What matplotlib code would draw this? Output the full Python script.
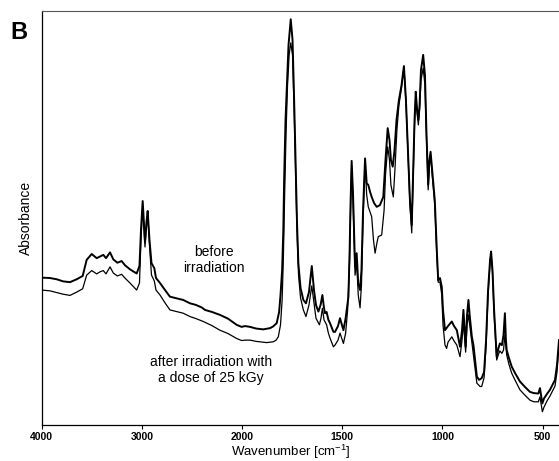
import numpy as np
import matplotlib
matplotlib.use("Agg")
import matplotlib.pyplot as plt

plt.rcParams['font.family'] = ['Liberation Sans', 'DejaVu Sans']

# FTIR spectra, wavenumber [cm-1] vs absorbance (arbitrary units)
wn_before = [4000, 3917, 3850, 3787, 3718, 3651, 3591, 3551, 3501, 3451, 3418, 3385, 3358, 3318,
             3285, 3245, 3202, 3169, 3119, 3052, 3024, 3009, 2992, 2979, 2969, 2954, 2942, 2924,
             2904, 2876, 2859, 2819, 2769, 2720, 2587, 2520, 2460, 2403, 2370, 2300, 2221, 2141,
             2054, 2004, 1985, 1960, 1930, 1894, 1860, 1845, 1827, 1815, 1808, 1800, 1794, 1790,
             1783, 1775, 1768, 1757, 1748, 1740, 1733, 1726, 1719, 1708, 1694, 1681, 1666, 1652,
             1641, 1631, 1619, 1608, 1599, 1591, 1586, 1578, 1569, 1561, 1544, 1536, 1521, 1511,
             1503, 1494, 1483, 1469, 1463, 1458, 1453, 1446, 1436, 1428, 1420, 1411, 1404, 1396,
             1386, 1378, 1370, 1361, 1353, 1341, 1328, 1312, 1295, 1284, 1273, 1264, 1257, 1248,
             1239, 1229, 1217, 1204, 1192, 1182, 1172, 1162, 1153, 1147, 1139, 1133, 1127, 1120,
             1114, 1107, 1096, 1087, 1080, 1071, 1065, 1059, 1051, 1038, 1028, 1021, 1012, 1003,
             997, 987, 972, 953, 942, 928, 912, 902, 895, 889, 884, 877, 870, 864, 853, 845, 828,
             817, 804, 792, 782, 772, 762, 757, 750, 742, 729, 720, 713, 703, 695, 688, 683, 679,
             668, 654, 638, 613, 588, 563, 543, 521, 513, 501, 493, 478, 463, 438, 428, 418]
abs_before = [0.356, 0.355, 0.352, 0.347, 0.345, 0.352, 0.360, 0.399, 0.413, 0.403, 0.407, 0.411,
              0.403, 0.417, 0.400, 0.392, 0.396, 0.386, 0.376, 0.366, 0.384, 0.471, 0.541, 0.483,
              0.442, 0.490, 0.517, 0.447, 0.391, 0.379, 0.355, 0.343, 0.326, 0.310, 0.302, 0.294,
              0.290, 0.284, 0.278, 0.273, 0.266, 0.257, 0.242, 0.237, 0.239, 0.237, 0.233, 0.231,
              0.234, 0.238, 0.246, 0.273, 0.314, 0.374, 0.471, 0.592, 0.737, 0.833, 0.918, 0.980,
              0.930, 0.785, 0.640, 0.495, 0.391, 0.331, 0.302, 0.294, 0.321, 0.384, 0.326, 0.290,
              0.274, 0.290, 0.314, 0.283, 0.270, 0.273, 0.254, 0.246, 0.225, 0.225, 0.239, 0.258,
              0.244, 0.229, 0.258, 0.310, 0.423, 0.543, 0.638, 0.556, 0.382, 0.415, 0.342, 0.326,
              0.374, 0.519, 0.644, 0.584, 0.580, 0.563, 0.551, 0.536, 0.527, 0.531, 0.551, 0.640,
              0.717, 0.688, 0.640, 0.624, 0.664, 0.737, 0.785, 0.821, 0.867, 0.785, 0.664, 0.543,
              0.483, 0.592, 0.737, 0.805, 0.766, 0.737, 0.771, 0.857, 0.894, 0.845, 0.713, 0.580,
              0.638, 0.660, 0.616, 0.543, 0.423, 0.350, 0.355, 0.333, 0.278, 0.229, 0.239, 0.250,
              0.239, 0.229, 0.189, 0.229, 0.278, 0.229, 0.189, 0.266, 0.302, 0.266, 0.213, 0.193,
              0.117, 0.109, 0.113, 0.128, 0.205, 0.326, 0.399, 0.419, 0.374, 0.278, 0.165, 0.186,
              0.197, 0.193, 0.217, 0.270, 0.205, 0.181, 0.162, 0.141, 0.126, 0.105, 0.092, 0.080,
              0.077, 0.076, 0.089, 0.052, 0.064, 0.075, 0.085, 0.109, 0.145, 0.205]

wn_after = [4000, 3917, 3850, 3787, 3718, 3651, 3591, 3551, 3501, 3451, 3418, 3385, 3358, 3318,
            3285, 3245, 3202, 3169, 3119, 3052, 3024, 3009, 2992, 2979, 2969, 2954, 2942, 2924,
            2904, 2876, 2859, 2819, 2769, 2720, 2587, 2520, 2460, 2387, 2300, 2221, 2141, 2054,
            2004, 1985, 1960, 1930, 1877, 1844, 1830, 1819, 1808, 1800, 1794, 1788, 1780, 1773,
            1765, 1757, 1748, 1740, 1733, 1726, 1718, 1708, 1694, 1681, 1666, 1652, 1641, 1631,
            1614, 1606, 1599, 1591, 1578, 1569, 1561, 1544, 1536, 1521, 1511, 1503, 1494, 1483,
            1473, 1463, 1458, 1453, 1446, 1436, 1428, 1420, 1411, 1404, 1396, 1386, 1378, 1370,
            1361, 1353, 1344, 1336, 1326, 1320, 1303, 1291, 1284, 1273, 1264, 1257, 1245, 1237,
            1227, 1217, 1204, 1192, 1182, 1172, 1162, 1153, 1147, 1139, 1133, 1127, 1120, 1114,
            1107, 1096, 1087, 1080, 1071, 1065, 1059, 1051, 1038, 1028, 1021, 1012, 1003, 997,
            987, 979, 972, 953, 942, 928, 912, 902, 895, 889, 884, 877, 870, 864, 853, 845, 828,
            812, 804, 792, 782, 772, 762, 757, 750, 742, 729, 720, 713, 703, 695, 688, 679, 668,
            654, 638, 613, 588, 563, 543, 521, 513, 501, 493, 478, 463, 438, 428, 418]
abs_after = [0.326, 0.324, 0.320, 0.316, 0.313, 0.321, 0.329, 0.362, 0.373, 0.365, 0.370, 0.373,
             0.365, 0.382, 0.367, 0.360, 0.364, 0.355, 0.343, 0.326, 0.343, 0.447, 0.529, 0.471,
             0.430, 0.478, 0.507, 0.435, 0.362, 0.348, 0.326, 0.314, 0.295, 0.278, 0.270, 0.262,
             0.257, 0.250, 0.240, 0.229, 0.221, 0.209, 0.204, 0.205, 0.205, 0.202, 0.199, 0.201,
             0.205, 0.213, 0.242, 0.302, 0.399, 0.543, 0.713, 0.821, 0.894, 0.923, 0.894, 0.761,
             0.616, 0.471, 0.362, 0.307, 0.278, 0.262, 0.290, 0.336, 0.295, 0.258, 0.242, 0.258,
             0.282, 0.254, 0.242, 0.222, 0.210, 0.189, 0.193, 0.205, 0.222, 0.210, 0.197, 0.222,
             0.278, 0.399, 0.531, 0.626, 0.543, 0.362, 0.394, 0.314, 0.283, 0.338, 0.495, 0.635,
             0.556, 0.527, 0.514, 0.503, 0.447, 0.415, 0.442, 0.455, 0.459, 0.519, 0.604, 0.672,
             0.640, 0.580, 0.551, 0.616, 0.713, 0.773, 0.814, 0.865, 0.780, 0.659, 0.531, 0.464,
             0.580, 0.725, 0.795, 0.757, 0.725, 0.761, 0.833, 0.862, 0.821, 0.700, 0.568, 0.626,
             0.652, 0.604, 0.531, 0.411, 0.345, 0.345, 0.314, 0.242, 0.193, 0.185, 0.200, 0.213,
             0.203, 0.193, 0.165, 0.205, 0.249, 0.210, 0.176, 0.242, 0.266, 0.242, 0.200, 0.169,
             0.101, 0.093, 0.093, 0.114, 0.193, 0.314, 0.394, 0.413, 0.370, 0.268, 0.157, 0.171,
             0.179, 0.173, 0.181, 0.217, 0.169, 0.147, 0.125, 0.109, 0.085, 0.072, 0.060, 0.056,
             0.056, 0.068, 0.032, 0.043, 0.058, 0.070, 0.094, 0.128, 0.193]

x_ticks = [4000, 3000, 2000, 1500, 1000, 500]


# wavenumber axis is stretched by a factor of 2 below 2000 cm-1
def forward(x):
    x = np.asarray(x, dtype=float)
    return np.where(x >= 2000, x, 2 * x - 2000)


def inverse(u):
    u = np.asarray(u, dtype=float)
    return np.where(u >= 2000, u, (u + 2000) / 2)


fig = plt.figure(figsize=(5.59, 4.61), dpi=100)
ax = fig.add_axes([0.0746, 0.0781, 0.9254, 0.898])

ax.plot(wn_before, abs_before, color='black', lw=1.4, solid_joinstyle='round')
ax.plot(wn_after, abs_after, color='black', lw=0.9, solid_joinstyle='round')

ax.set_xscale('function', functions=(forward, inverse))
ax.set_xlim(4000, 418)
ax.set_ylim(0, 1.0)
ax.set_xticks(x_ticks)
ax.set_xticklabels([str(t) for t in x_ticks], fontsize=7.5, fontweight='bold')
ax.minorticks_off()
ax.set_yticks([])
ax.tick_params(axis='x', direction='out', length=3, width=0.8, pad=2)

ax.spines['right'].set_visible(False)
ax.spines['top'].set_color('#555555')
ax.spines['top'].set_linewidth(0.8)
ax.spines['left'].set_linewidth(0.9)
ax.spines['bottom'].set_linewidth(0.9)

ax.set_xlabel(r'Wavenumber [cm$^{\mathregular{-1}}$]', fontsize=9.5)
ax.xaxis.set_label_coords(0.482, -0.043)
ax.set_ylabel('Absorbance', fontsize=10, labelpad=6)

ax.text(2280, 0.399, 'before\nirradiation', fontsize=10, ha='center', va='center')
ax.text(2313, 0.132, 'after irradiation with\na dose of 25 kGy', fontsize=10,
        ha='center', va='center')

fig.text(0.018, 0.93, 'B', fontsize=17, fontweight='bold', ha='left', va='center')

fig.savefig('out.png', dpi=100)
